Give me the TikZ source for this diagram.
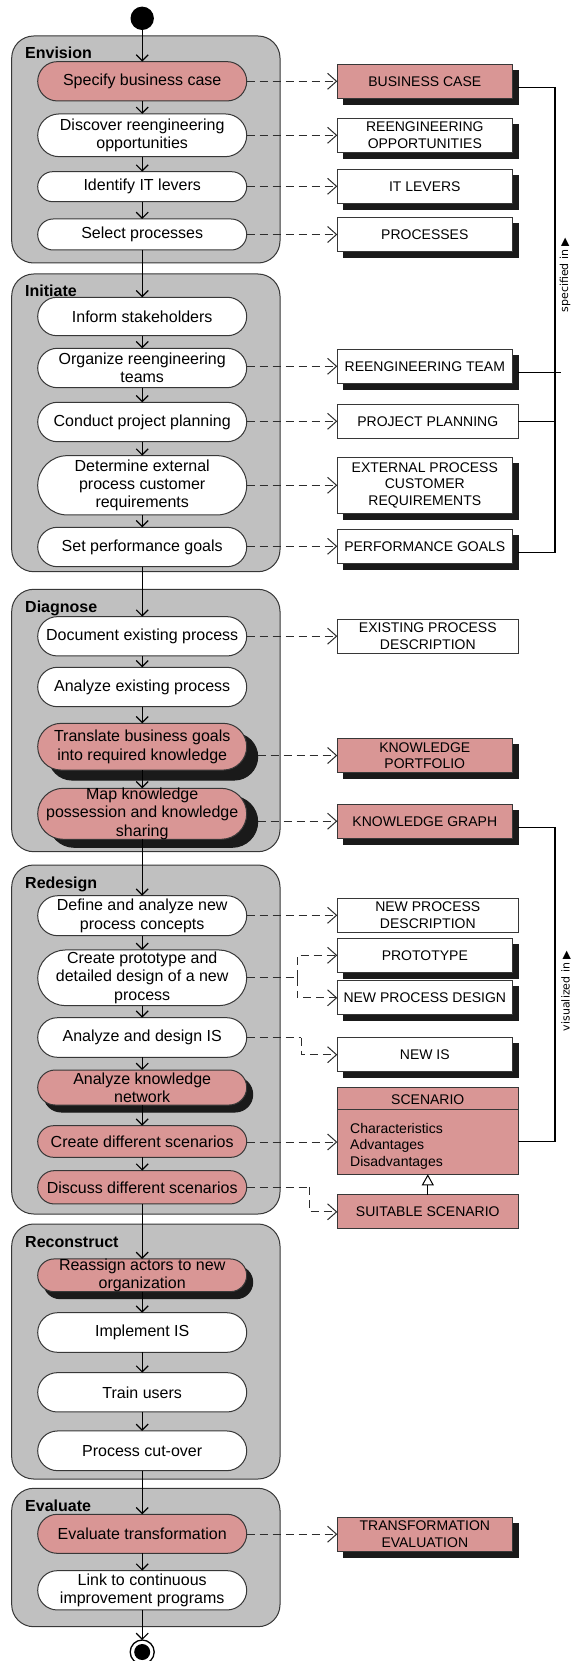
\documentclass[tikz,border=0pt]{standalone}
\usepackage{fontspec}
\setmainfont{Liberation Sans}
\newfontfamily\relfont{DejaVu Sans}
\usetikzlibrary{arrows.meta,shapes.misc,shadows}

\definecolor{actpink}{RGB}{217,150,149}
\definecolor{grpgray}{RGB}{192,192,192}
\definecolor{edgegray}{RGB}{55,55,55}
\definecolor{shade}{RGB}{26,26,26}
\definecolor{depgray}{RGB}{45,45,45}

\tikzset{
  grp/.style={draw=edgegray, fill=grpgray, line width=1pt, rounded corners=22pt,
    rectangle, minimum width=268.3pt, inner sep=0pt, outer sep=0pt},
  grplabel/.style={font=\fontsize{16}{18}\selectfont\bfseries, anchor=base west, inner sep=0pt},
  act/.style={rounded rectangle, draw=edgegray, line width=1pt, minimum width=209pt,
    inner sep=0pt, outer sep=0pt},
  acttext/.style={align=center, inner sep=0pt, font=\fontsize{16}{18.4}\selectfont},
  obj/.style={rectangle, draw=edgegray, line width=1pt, inner sep=0pt, outer sep=0pt,
    minimum height=34pt, align=center, font=\fontsize{14}{16.6}\selectfont},
  narrowobj/.style={obj, minimum width=175pt},
  wideobj/.style={obj, minimum width=181pt},
  castshadow/.style 2 args={copy shadow={shadow xshift=#1pt, shadow yshift=-#2pt,
    fill=shade, draw=shade}},
  flow/.style={draw=black, line width=1.2pt, -{Straight Barb[length=6pt,width=12pt]}},
  dep/.style={draw=depgray, line width=1pt, dash pattern=on 8pt off 5pt},
  deparrow/.style={dep, -{Straight Barb[length=9pt,width=16pt]}},
  link/.style={draw=black, line width=1.2pt},
  rel/.style={rotate=90, inner sep=0pt, font=\relfont\fontsize{11}{13}\selectfont},
}

% activity: name, centre y, height, fill, extra options, text
\newcommand\actnode[6]{%
  \node[act, fill=#4, minimum height=#3pt, #5] (#1) at (142.2,#2) {};
  \node[acttext] (#1-t) at (#1.center) {#6};}

\begin{document}
\begin{tikzpicture}[x=1pt, y=-1pt]
\useasboundingbox (0,0) rectangle (575,1661);

% ---------- phase containers ----------
\node[grp, minimum height=227pt]   (g1) at (145.85,149.5)  {};
\node[grp, minimum height=297.7pt] (g2) at (145.85,422.85) {};
\node[grp, minimum height=262.4pt] (g3) at (145.85,720.5)  {};
\node[grp, minimum height=349pt]   (g4) at (145.85,1039.5) {};
\node[grp, minimum height=255pt]   (g5) at (145.85,1351.5) {};
\node[grp, minimum height=138.4pt] (g6) at (145.85,1557.5) {};

\node[grplabel] (g1-l) at (25,59)     {Envision};
\node[grplabel] (g2-l) at (25,297)    {Initiate};
\node[grplabel] (g3-l) at (25,612.3)  {Diagnose};
\node[grplabel] (g4-l) at (25,888)    {Redesign};
\node[grplabel] (g5-l) at (25,1247)   {Reconstruct};
\node[grplabel] (g6-l) at (25,1511.3) {Evaluate};

% ---------- start / end ----------
\node[circle, fill=black, minimum size=23.4pt, inner sep=0pt, outer sep=0pt] (start) at (142.2,18.3) {};
\node[circle, draw=black, fill=white, line width=1.3pt, minimum size=24pt, inner sep=0pt, outer sep=0pt] (end) at (142.2,1652) {};
\node[circle, fill=black, minimum size=16pt, inner sep=0pt] (end-in) at (end.center) {};

% ---------- activities ----------
\actnode{a1}{81.3}{39.3}{actpink}{}{Specify business case}
\actnode{a2}{135.3}{42.7}{white}{}{Discover reengineering\\opportunities}
\actnode{a3}{186.7}{30}{white}{}{Identify IT levers}
\actnode{a4}{234.5}{31}{white}{}{Select processes}

\actnode{b1}{316.5}{38.4}{white}{}{Inform stakeholders}
\actnode{b2}{368}{39.4}{white}{}{Organize reengineering\\teams}
\actnode{b3}{422}{39.4}{white}{}{Conduct project planning}
\actnode{b4}{485.3}{59.3}{white}{}{Determine external\\process customer\\requirements}
\actnode{b5}{547}{39.4}{white}{}{Set performance goals}

\actnode{c1}{636.3}{39.3}{white}{}{Document existing process}
\actnode{c2}{687}{39.4}{white}{}{Analyze existing process}
\actnode{c3}{746.7}{46.7}{actpink}{castshadow={11}{10}}{Translate business goals\\into required knowledge}
\actnode{c4}{813.8}{51}{actpink}{castshadow={11}{8}}{Map knowledge\\possession and knowledge\\sharing}

\actnode{d1}{915.7}{40}{white}{}{Define and analyze new\\process concepts}
\actnode{d2}{977.8}{55.7}{white}{}{Create prototype and\\detailed design of a new\\process}
\actnode{d3}{1037.5}{39.6}{white}{}{Analyze and design IS}
\actnode{d4}{1087.5}{35}{actpink}{castshadow={6}{7}}{Analyze knowledge\\network}
\actnode{d5}{1141.5}{31.6}{actpink}{}{Create different scenarios}
\actnode{d6}{1187.3}{33.3}{actpink}{}{Discuss different scenarios}

\actnode{e1}{1275.3}{32.7}{actpink}{castshadow={6}{7}}{Reassign actors to new\\organization}
\actnode{e2}{1332.5}{39.6}{white}{}{Implement IS}
\actnode{e3}{1392.3}{39.3}{white}{}{Train users}
\actnode{e4}{1450.8}{39.7}{white}{}{Process cut-over}

\actnode{f1}{1533.8}{39}{actpink}{}{Evaluate transformation}
\actnode{f2}{1590.3}{39.3}{white}{}{Link to continuous\\improvement programs}

% ---------- control flow ----------
\draw[flow] (start) -- (a1.north);
\draw[flow] (a1.south) -- (a2.north);
\draw[flow] (a2.south) -- (a3.north);
\draw[flow] (a3.south) -- (a4.north);
\draw[flow] (a4.south) -- (b1.north);
\draw[flow] (b1.south) -- (b2.north);
\draw[flow] (b2.south) -- (b3.north);
\draw[flow] (b3.south) -- (b4.north);
\draw[flow] (b4.south) -- (b5.north);
\draw[flow] (b5.south) -- (c1.north);
\draw[flow] (c1.south) -- (c2.north);
\draw[flow] (c2.south) -- (c3.north);
\draw[flow] (c3.south) -- (c4.north);
\draw[flow] (c4.south) -- (d1.north);
\draw[flow] (d1.south) -- (d2.north);
\draw[flow] (d2.south) -- (d3.north);
\draw[flow] (d3.south) -- (d4.north);
\draw[flow] (d4.south) -- (d5.north);
\draw[flow] (d5.south) -- (d6.north);
\draw[flow] (d6.south) -- (e1.north);
\draw[flow] (e1.south) -- (e2.north);
\draw[flow] (e2.south) -- (e3.north);
\draw[flow] (e3.south) -- (e4.north);
\draw[flow] (e4.south) -- (f1.north);
\draw[flow] (f1.south) -- (f2.north);
\draw[flow] (f2.south) -- (end.north);

% ---------- artefacts ----------
\node[narrowobj, fill=actpink, castshadow={6}{6}] (o1) at (424.8,81.3) {BUSINESS CASE};
\node[narrowobj, fill=white, castshadow={6}{6}] (o2) at (424.8,135.3) {REENGINEERING\\OPPORTUNITIES};
\node[narrowobj, fill=white, castshadow={6}{6}] (o3) at (424.8,186.3) {IT LEVERS};
\node[narrowobj, fill=white, castshadow={6}{6}] (o4) at (424.8,234.5) {PROCESSES};
\node[narrowobj, fill=white, castshadow={6}{6}] (o5) at (424.8,366.3) {REENGINEERING TEAM};
\node[wideobj, fill=white] (o6) at (427.8,421.3) {PROJECT PLANNING};
\node[narrowobj, fill=white, castshadow={6}{6}, minimum height=56pt] (o7) at (424.8,485.3) {EXTERNAL PROCESS\\CUSTOMER\\REQUIREMENTS};
\node[narrowobj, fill=white, castshadow={6}{6}] (o8) at (424.8,546.3) {PERFORMANCE GOALS};
\node[wideobj, fill=white] (o9) at (427.8,636.2) {EXISTING PROCESS\\DESCRIPTION};
\node[narrowobj, fill=actpink, castshadow={6}{6}] (o10) at (424.8,755.5) {KNOWLEDGE\\PORTFOLIO};
\node[narrowobj, fill=actpink, castshadow={6}{6}] (o11) at (424.8,821.2) {KNOWLEDGE GRAPH};
\node[wideobj, fill=white] (o12) at (427.8,915.3) {NEW PROCESS\\DESCRIPTION};
\node[narrowobj, fill=white, castshadow={6}{6}] (o13) at (424.8,955.3) {PROTOTYPE};
\node[narrowobj, fill=white, castshadow={6}{6}] (o14) at (424.8,997.8) {NEW PROCESS DESIGN};
\node[narrowobj, fill=white, castshadow={6}{6}] (o15) at (424.8,1054.7) {NEW IS};

% scenario class box with compartment
\node[wideobj, fill=actpink, minimum height=86.6pt] (o16) at (427.8,1131) {};
\draw[draw=edgegray, line width=1pt] (o16.west |- 0,1109.3) -- (o16.east |- 0,1109.3);
\node[inner sep=0pt, font=\fontsize{14}{16.6}\selectfont] (o16-h) at (427.8,1099.8) {SCENARIO};
\node[anchor=west, align=left, inner sep=0pt, font=\fontsize{14}{16.4}\selectfont] (o16-a) at (350,1146.3) {Characteristics\\Advantages\\Disadvantages};

\node[wideobj, fill=actpink] (o17) at (427.8,1211.8) {SUITABLE SCENARIO};
\node[narrowobj, fill=actpink, castshadow={6}{6}] (o18) at (424.8,1534.2) {TRANSFORMATION\\EVALUATION};

% ---------- object flows ----------
\draw[deparrow] (a1.east) -- (o1.west);
\draw[deparrow] (a2.east) -- (o2.west);
\draw[deparrow] (a3.east |- o3.west) -- (o3.west);
\draw[deparrow] (a4.east) -- (o4.west);
\draw[deparrow] (b2.east |- o5.west) -- (o5.west);
\draw[deparrow] (b3.east |- o6.west) -- (o6.west);
\draw[deparrow] (b4.east) -- (o7.west);
\draw[deparrow] (b5.east |- o8.west) -- (o8.west);
\draw[deparrow] (c1.east |- o9.west) -- (o9.west);
\draw[deparrow] ([xshift=11pt]c3.east |- o10.west) -- (o10.west);
\draw[deparrow] ([xshift=11pt]c4.east |- o11.west) -- (o11.west);
\draw[deparrow] (d1.east |- o12.west) -- (o12.west);

\coordinate (k1) at (297,977.8);
\draw[dep] (d2.east) -- (k1);
\draw[deparrow] (k1) |- (o13.west);
\draw[deparrow] (k1) |- (o14.west);

\coordinate (k2) at (301,1037.5);
\draw[dep] (d3.east) -- (k2);
\draw[deparrow] (k2) |- (o15.west);

\draw[deparrow] (d5.east |- 0,1142) -- (o16.west |- 0,1142);

\coordinate (k3) at (309,1187.3);
\draw[dep] (d6.east) -- (k3);
\draw[deparrow] (k3) |- (o17.west);

\draw[deparrow] (f1.east |- o18.west) -- (o18.west);

% generalisation
\draw[link, line width=1pt, -{Triangle[open, length=11pt, width=12pt, fill=white]}] (o17.north) -- (o16.south);

% ---------- "specified in" rail ----------
\coordinate (r1t) at (555,87.3);
\coordinate (r1b) at (555,552.3);
\draw[link] ([shift={(6,6)}]o1.east) -- (r1t) -- (r1b) -- ([shift={(6,6)}]o8.east);
\draw[link] ([shift={(6,6)}]o5.east) -- ([shift={(6,6)}]o5.east -| r1t);
\draw[link] (o6.east) -- (o6.east -| r1t);
\node[rel] (spec) at (565,275) {specified in ▶};

% ---------- "visualized in" rail ----------
\coordinate (r2t) at (555,827.2);
\coordinate (r2b) at (555,1141.7);
\draw[link] ([shift={(6,6)}]o11.east) -- (r2t) -- (r2b) -- (o16.east |- r2b);
\node[rel] (vis) at (566,991) {visualized in ▶};

\end{tikzpicture}
\end{document}
